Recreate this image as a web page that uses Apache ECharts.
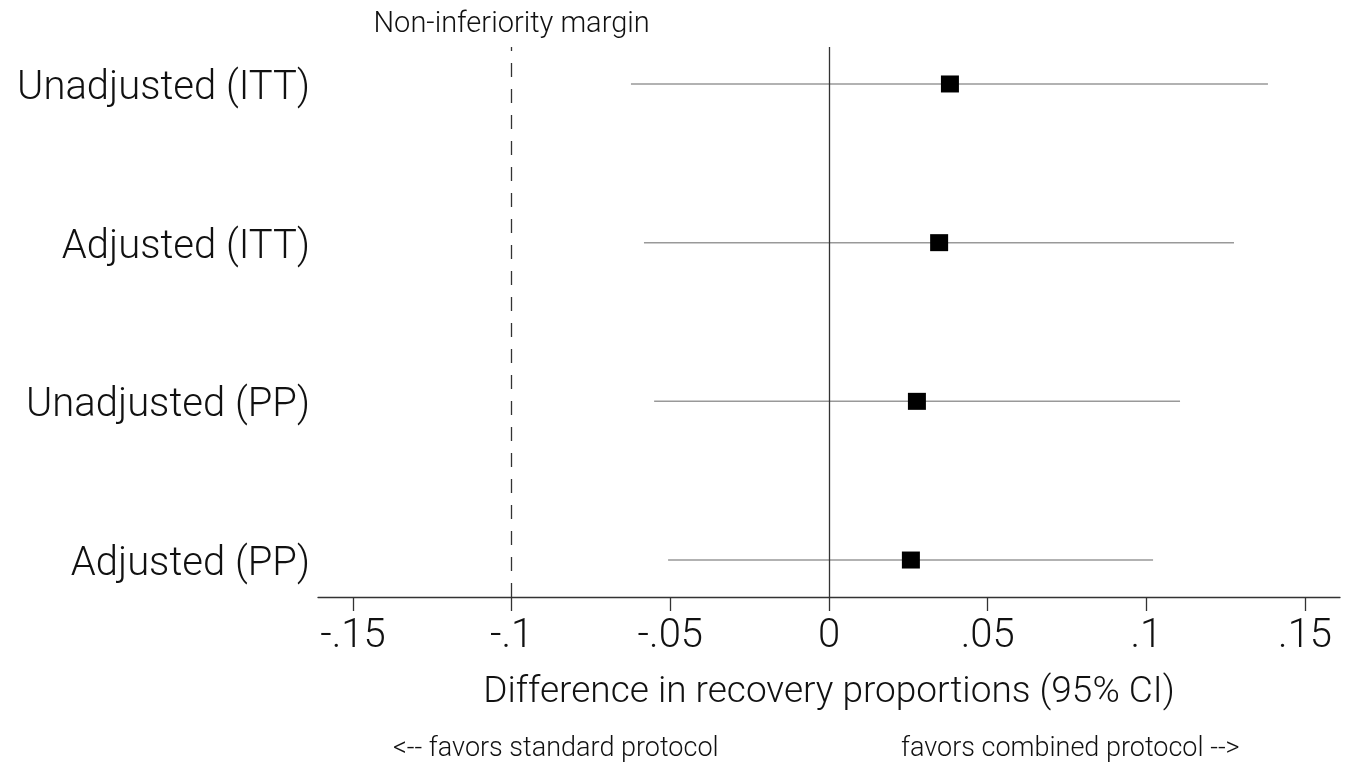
<!DOCTYPE html>
<html>
<head>
<meta charset="utf-8">
<script src="https://cdn.jsdelivr.net/npm/echarts@6/dist/echarts.min.js"></script>
<style>html,body{margin:0;padding:0;background:#fff;}#c{width:1350px;height:763px;}</style>
</head>
<body>
<div id="c"></div>
<script>
const categories = ['Unadjusted (ITT)', 'Adjusted (ITT)', 'Unadjusted (PP)', 'Adjusted (PP)'];
const yPos = [4, 3, 2, 1];
const estimates = [0.0381, 0.0347, 0.0277, 0.0258];
const ciLow = [-0.0624, -0.0583, -0.0551, -0.0507];
const ciHigh = [0.1383, 0.1276, 0.1106, 0.1021];
const xTicks = [-0.15, -0.1, -0.05, 0, 0.05, 0.1, 0.15];
const xTickLabels = ['-.15', '-.1', '-.05', '0', '.05', '.1', '.15'];
const margin = -0.1;

const FONT = 'Roboto';
const chart = echarts.init(document.getElementById('c'), null, {renderer: 'canvas'});

const ciData = categories.map((c, i) => [ciLow[i], ciHigh[i], yPos[i]]);
const ptData = categories.map((c, i) => [estimates[i], yPos[i]]);

chart.setOption({
  animation: false,
  backgroundColor: '#fff',
  grid: {left: 318, right: 10, top: 47, bottom: 166, containLabel: false},
  xAxis: {
    type: 'value', min: -0.161, max: 0.161,
    name: 'Difference in recovery proportions (95% CI)',
    nameLocation: 'middle', nameGap: 77,
    nameTextStyle: {fontFamily: FONT, fontWeight: 300, fontSize: 37, color: '#111'},
    axisLine: {show: true, onZero: false, lineStyle: {color: '#333', width: 1.3}},
    axisTick: {show: true, length: 14, customValues: xTicks, lineStyle: {color: '#333', width: 1.3}},
    axisLabel: {
      customValues: xTicks, margin: 20,
      fontFamily: FONT, fontWeight: 300, fontSize: 40, color: '#111',
      formatter: v => { const i = xTicks.findIndex(t => Math.abs(t - v) < 1e-9); return i >= 0 ? xTickLabels[i] : ''; }
    },
    splitLine: {show: false}
  },
  yAxis: {
    type: 'value', min: 0.767, max: 4.233,
    axisLine: {show: false}, axisTick: {show: false}, splitLine: {show: false},
    axisLabel: {
      customValues: yPos, margin: 8,
      formatter: v => { const i = yPos.indexOf(Math.round(v)); return i >= 0 ? '{c|' + categories[i] + '}' : ''; },
      rich: {c: {fontFamily: FONT, fontWeight: 300, fontSize: 40, color: '#111', padding: [10, 0, 0, 0]}}
    }
  },
  graphic: [
    {type: 'text', left: 393, top: 736, style: {text: '<-- favors standard protocol', fontFamily: FONT, fontWeight: 300, fontSize: 27, fill: '#111'}},
    {type: 'text', left: 901, top: 736, style: {text: 'favors combined protocol -->', fontFamily: FONT, fontWeight: 300, fontSize: 27, fill: '#111'}}
  ],
  series: [
    {
      type: 'custom',
      data: ciData,
      encode: {x: [0, 1], y: 2},
      z: 2,
      renderItem: (params, api) => {
        const a = api.coord([api.value(0), api.value(2)]);
        const b = api.coord([api.value(1), api.value(2)]);
        return {type: 'line', shape: {x1: a[0], y1: a[1], x2: b[0], y2: b[1]}, style: {stroke: '#999', lineWidth: 1.5}};
      },
      markLine: {
        silent: true, symbol: 'none',
        data: [
          {xAxis: 0, lineStyle: {color: '#333', width: 1.3, type: 'solid'}, label: {show: false}},
          {xAxis: margin, lineStyle: {color: '#333', width: 1.3, type: [14, 12]},
           label: {show: true, position: 'end', distance: 8, formatter: 'Non-inferiority margin', fontFamily: FONT, fontWeight: 300, fontSize: 29, color: '#111'}}
        ]
      }
    },
    {
      type: 'scatter',
      data: ptData,
      symbol: 'rect', symbolSize: [18, 17],
      itemStyle: {color: '#000', opacity: 1},
      z: 5
    }
  ]
});
</script>
</body>
</html>
